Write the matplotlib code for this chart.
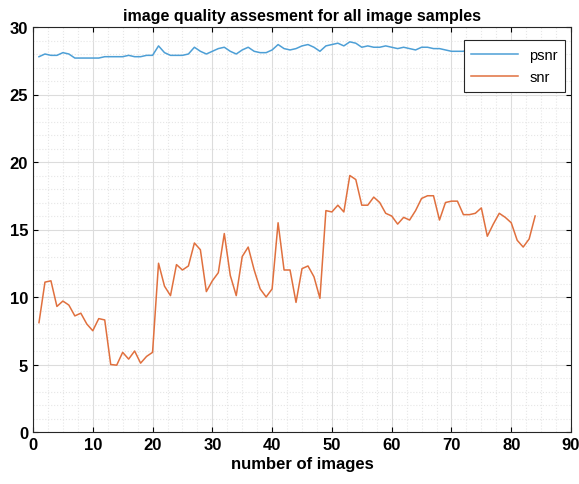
import matplotlib
matplotlib.use("Agg")
import matplotlib.pyplot as plt
import numpy as np

# data kualitas citra
psnr = [27.8, 28.0, 27.9, 27.9, 28.1, 28.0, 27.7, 27.7, 27.7, 27.7,
        27.7, 27.8, 27.8, 27.8, 27.8, 27.9, 27.8, 27.8, 27.9, 27.9,
        28.6, 28.1, 27.9, 27.9, 27.9, 28.0, 28.5, 28.2, 28.0, 28.2,
        28.4, 28.5, 28.2, 28.0, 28.3, 28.5, 28.2, 28.1, 28.1, 28.3,
        28.7, 28.4, 28.3, 28.4, 28.6, 28.7, 28.5, 28.2, 28.6, 28.7,
        28.8, 28.6, 28.9, 28.8, 28.5, 28.6, 28.5, 28.5, 28.6, 28.5,
        28.4, 28.5, 28.4, 28.3, 28.5, 28.5, 28.4, 28.4, 28.3, 28.2,
        28.2, 28.2, 28.4, 28.8, 28.9, 28.9, 28.8, 28.9, 28.9, 28.8,
        28.9, 28.8, 28.9, 28.9]
snr = [8.1, 11.1, 11.2, 9.3, 9.7, 9.4, 8.6, 8.8, 8.0, 7.5,
       8.4, 8.3, 5.0, 4.95, 5.9, 5.4, 6.0, 5.1, 5.6, 5.9,
       12.5, 10.8, 10.1, 12.4, 12.0, 12.3, 14.0, 13.5, 10.4, 11.2,
       11.8, 14.7, 11.6, 10.1, 13.0, 13.7, 12.0, 10.6, 10.0, 10.6,
       15.5, 12.0, 12.0, 9.6, 12.1, 12.3, 11.5, 9.9, 16.4, 16.3,
       16.8, 16.3, 19.0, 18.7, 16.8, 16.8, 17.4, 17.0, 16.2, 16.0,
       15.4, 15.9, 15.7, 16.4, 17.3, 17.5, 17.5, 15.7, 17.0, 17.1,
       17.1, 16.1, 16.1, 16.2, 16.6, 14.5, 15.4, 16.2, 15.9, 15.5,
       14.2, 13.7, 14.3, 16.0]
n = np.arange(1, len(snr) + 1)

plt.rcParams["font.family"] = ["Liberation Sans", "DejaVu Sans"]
fig = plt.figure(figsize=(5.79, 4.85), dpi=100)
ax = fig.add_axes([33/579, 1 - 433/485, (571-33)/579, (433-28)/485])

ax.plot(n, psnr, color="#4d9fd6", linewidth=1.1, label="psnr")
ax.plot(n, snr, color="#e0703e", linewidth=1.1, label="snr")

ax.set_xlim(0, 90)
ax.set_ylim(0, 30)
ax.set_xticks(range(0, 91, 10))
ax.set_yticks(range(0, 31, 5))
ax.set_xticks(np.arange(0, 91, 2.5), minor=True)
ax.set_yticks(np.arange(0, 31, 1), minor=True)
ax.grid(which="major", color="#dcdcdc", linewidth=0.8)
ax.grid(which="minor", color="#e6e6e6", linestyle=":", linewidth=0.8)
ax.tick_params(which="both", direction="in", top=True, right=True)
ax.tick_params(which="minor", length=0)
ax.tick_params(labelsize=12)
for lbl in ax.get_xticklabels() + ax.get_yticklabels():
    lbl.set_fontweight("bold")
for s in ax.spines.values():
    s.set_color("#262626")

ax.set_title("image quality assesment for all image samples", fontsize=11.5, fontweight="bold", pad=5)
ax.set_xlabel("number of images", fontsize=12, fontweight="bold", labelpad=3)
leg = ax.legend(loc="upper right", bbox_to_anchor=(1.003, 0.985), fontsize=10.5,
                fancybox=False, framealpha=1, edgecolor="#262626", handlelength=3.2,
                borderpad=0.5, labelspacing=0.6)
leg.get_frame().set_linewidth(0.8)

fig.savefig("out.png", dpi=100)
